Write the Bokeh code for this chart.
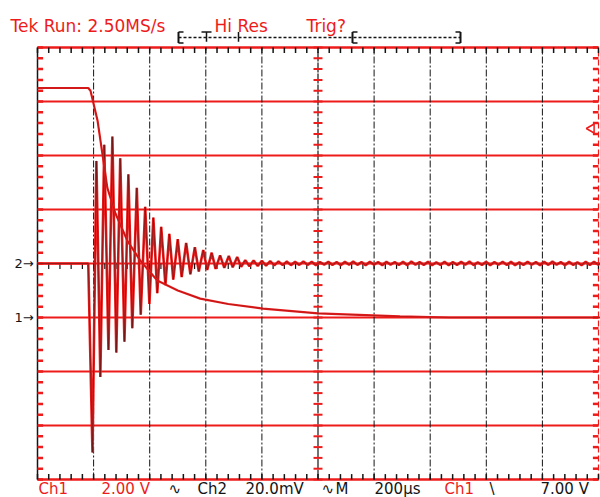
import numpy as np
from bokeh.plotting import figure
from bokeh.models import Range1d, Label
from bokeh.embed import file_html
from bokeh.resources import INLINE

# Ch1 (2.00 V/div): step that decays exponentially
ch1_time_us = [0, 181, 189, 214, 249, 278, 320, 367, 427, 500, 580, 680, 804, 1000, 1292, 1470, 2010]
ch1_volts = [8.5, 8.5, 8.4, 7.3, 4.8, 3.85, 2.85, 2.1, 1.37, 1.0, 0.7, 0.5, 0.33, 0.15, 0.04, 0.0, 0.0]

# Ch2 (20.0 mV/div): damped ringing, extrema
ch2_time_us = [0, 181, 196, 210, 224, 238, 253, 267, 281, 295, 310, 324, 338, 354, 368, 384,
               399, 413, 427, 441, 456, 470, 484, 500, 514, 530, 545, 561, 575, 591, 605, 621,
               635, 651, 666, 682, 696, 712, 726]
ch2_mv = [0, 0, -70, 38, -42, 44, -32, 47, -33, 39, -29, 33, -24, 28, -19, 21,
          -15, 17, -11, 13.6, -8, 11, -6, 9, -5, 7.6, -4, 6, -3, 5, -2.4, 4,
          -2, 3, -1.6, 2.8, -1.4, 2.4, -1.2]
# residual ripple after 726 us (one value every half ripple period)
ch2_tail_mv = [1.2, -1.0, 1.1, -0.9, 1.0, -0.8, 0.9, -0.7, 0.8, -0.6, 0.7, -0.6, 0.6, -0.5,
               0.7, -0.5, 0.6, -0.6, 0.5, -0.4, 0.6, -0.5, 0.5, -0.6, 0.6, -0.4, 0.7, -0.5,
               0.5, -0.6, 0.6, -0.4, 0.5, -0.6, 0.6, -0.4, 0.5, -0.5, 0.6, -0.6, 0.7, -0.4,
               0.5, -0.5, 0.6, -0.6, 0.4, -0.5, 0.6, -0.6, 0.5, -0.5, 0.6, -0.4, 0.7, -0.6,
               0.4, -0.5, 0.6, -0.6, 0.5, -0.4, 0.6, -0.5, 0.6, -0.6, 0.4, -0.5, 0.6, -0.4,
               0.5, -0.6, 0.6, -0.5, 0.7, -0.4, 0.5, -0.6, 0.6, -0.5, 0.4, -0.6, 0.6, -0.5,
               0.6, -0.4, 0.5]
TAIL_STEP_US = 14.8

# scope settings from the readout
TIME_PER_DIV_US = 200.0
CH1_V_PER_DIV = 2.0
CH2_MV_PER_DIV = 20.0
CH1_GROUND_DIV = -1.0
CH2_GROUND_DIV = 0.0
TRIG_LEVEL_V = 7.0

top_texts = [("Tek Run: 2.50MS/s", 10, "red"), ("Hi Res", 214, "red"), ("Trig?", 306, "red")]
bottom_texts = [("Ch1", 38, "red"), ("2.00 V", 101, "red"), ("\u223f", 168, "black"),
                ("Ch2", 197, "black"), ("20.0mV", 245, "black"), ("\u223f", 321, "black"),
                ("M", 335, "black"), ("200\u00b5s", 374, "black"), ("Ch1", 444, "red"),
                ("\\", 489, "black"), ("7.00 V", 540, "black")]

# ---------------- layout ----------------
W, H = 600, 497
X0, DX = 37.0, 56.1      # canvas px of division 0, px per division
YC, DY = 263.0, 54.0     # canvas px of centre line, px per division
RED = "#ee1b1b"
BLACK = "#141414"


def fx(px):
    return (px - X0) / DX


def fy(py):
    return (YC - py) / DY


p = figure(width=W, height=H, x_range=Range1d(-X0 / DX, (W - X0) / DX),
           y_range=Range1d((YC - H) / DY, YC / DY), output_backend="svg",
           toolbar_location=None, min_border=0, x_axis_location=None, y_axis_location=None,
           outline_line_color=None, background_fill_color="white", border_fill_color="white")
p.xgrid.visible = False
p.ygrid.visible = False

# graticule
hy = np.arange(-3, 4)
p.segment(x0=0, x1=10, y0=hy, y1=hy, line_color=RED, line_width=2)
p.segment(x0=[0, 0], x1=[10, 10], y0=[-4, 4], y1=[-4, 4], line_color=RED, line_width=2.5)
p.segment(x0=0, x1=0, y0=-4, y1=4, line_color=BLACK, line_width=1.5)
p.segment(x0=10, x1=10, y0=-4, y1=4, line_color=RED, line_width=1.2, line_dash="6 3")
vx = np.array([1, 2, 3, 4, 6, 7, 8, 9])
p.segment(x0=vx, x1=vx, y0=-4, y1=4, line_color=BLACK, line_width=1, line_dash="7 2 2 2")
p.segment(x0=5, x1=5, y0=-4, y1=4, line_color=BLACK, line_width=1.2, line_dash="10 1")
ty = np.arange(-4, 4.001, 0.2)
tx = np.arange(0, 10.001, 0.2)
p.segment(x0=0, x1=0.1, y0=ty, y1=ty, line_color=RED, line_width=2.5)
p.segment(x0=9.9, x1=10, y0=ty, y1=ty, line_color=RED, line_width=2.5)
p.segment(x0=4.92, x1=5.08, y0=ty, y1=ty, line_color=RED, line_width=2)
p.segment(x0=tx, x1=tx, y0=4, y1=3.9, line_color=BLACK, line_width=1.5)
p.segment(x0=tx, x1=tx, y0=-4, y1=-3.9, line_color=BLACK, line_width=1.5)
p.segment(x0=tx, x1=tx, y0=-0.1, y1=0.0, line_color=BLACK, line_width=1.2)

# traces
ch1_x = np.array(ch1_time_us) / TIME_PER_DIV_US
ch1_y = np.array(ch1_volts) / CH1_V_PER_DIV + CH1_GROUND_DIV
tail_t = ch2_time_us[-1] + TAIL_STEP_US * (np.arange(len(ch2_tail_mv)) + 1)
ch2_x = np.concatenate([np.array(ch2_time_us), tail_t]) / TIME_PER_DIV_US
ch2_y = np.concatenate([np.array(ch2_mv), np.array(ch2_tail_mv)]) / CH2_MV_PER_DIV + CH2_GROUND_DIV

p.line(ch2_x, ch2_y, line_color=RED, line_width=2.6)
p.line(ch2_x, ch2_y, line_color=BLACK, line_width=0.7, line_alpha=0.55)
p.line(ch1_x, ch1_y, line_color=RED, line_width=2.2)
p.line(ch1_x, ch1_y, line_color=BLACK, line_width=0.6, line_alpha=0.4)

# ground and trigger markers
for txt, lvl in (("2\u2192", CH2_GROUND_DIV), ("1\u2192", CH1_GROUND_DIV)):
    p.add_layout(Label(x=fx(14), y=lvl, text=txt, text_baseline="middle", text_font="DejaVu Sans",
                       text_font_size="13px", text_color=BLACK))
p.scatter(x=[fx(591)], y=[TRIG_LEVEL_V / CH1_V_PER_DIV + CH1_GROUND_DIV], marker="triangle",
          angle=np.pi / 2, size=9, line_color=RED, fill_color="white", line_width=1.5)

# record-length bar
by = fy(37)
p.segment(x0=fx(178), x1=fx(460), y0=by, y1=by, line_color=BLACK, line_width=1.5, line_dash="3 2")
bx = [fx(178), fx(460), fx(352)]
p.segment(x0=bx, x1=bx, y0=by - 0.1, y1=by + 0.1, line_color=BLACK, line_width=2)
p.segment(x0=[fx(178), fx(455), fx(352)], x1=[fx(183), fx(460), fx(357)], y0=by + 0.1, y1=by + 0.1,
          line_color=BLACK, line_width=1.5)
p.segment(x0=[fx(178), fx(455), fx(352)], x1=[fx(183), fx(460), fx(357)], y0=by - 0.1, y1=by - 0.1,
          line_color=BLACK, line_width=1.5)
p.segment(x0=[fx(206), fx(238)], x1=[fx(206), fx(238)], y0=by - 0.08, y1=by + 0.1, line_color=BLACK,
          line_width=1.5)
p.segment(x0=fx(201), x1=fx(211), y0=by + 0.1, y1=by + 0.1, line_color=BLACK, line_width=1.5)

# readouts
for txt, px, col in top_texts:
    p.add_layout(Label(x=fx(px), y=fy(25), text=txt, text_font="DejaVu Sans", text_font_size="17px",
                       text_color=RED if col == "red" else BLACK, text_baseline="alphabetic"))
for txt, px, col in bottom_texts:
    p.add_layout(Label(x=fx(px), y=fy(488), text=txt, text_font="DejaVu Sans", text_font_size="15px",
                       text_color=RED if col == "red" else BLACK, text_baseline="alphabetic"))

open("out.html", "w").write(file_html(p, INLINE))
